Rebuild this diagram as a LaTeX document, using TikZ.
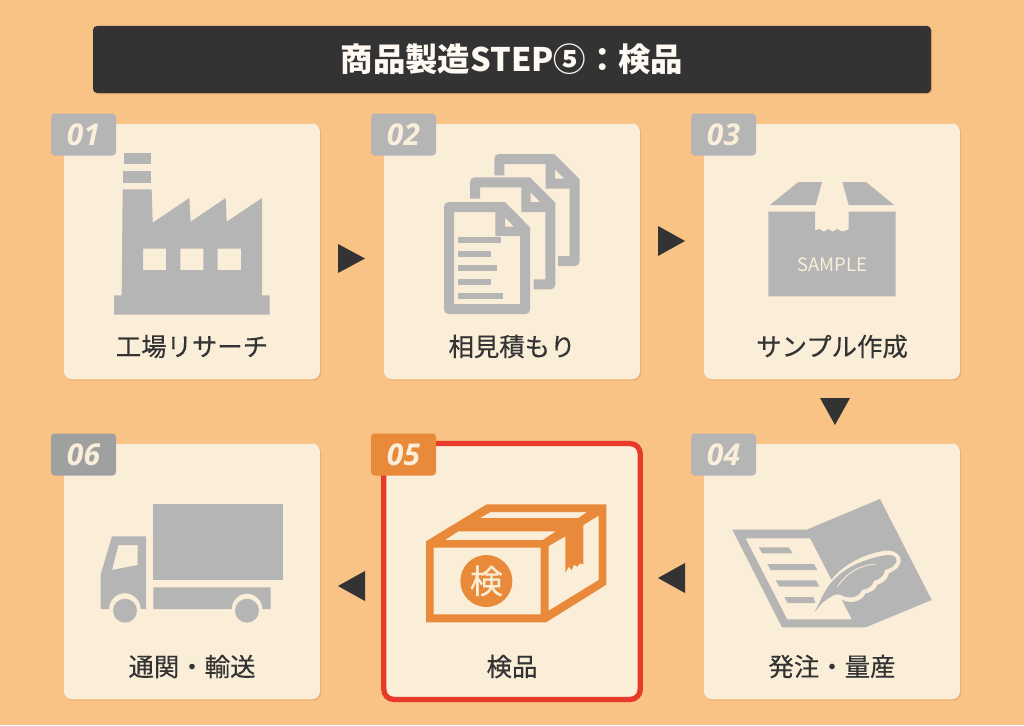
\documentclass[tikz,border=0pt]{standalone}
\usepackage{fontspec}
\setmainfont{Noto Sans CJK JP}
\newfontfamily\labelfont[FakeBold=0.35]{Noto Sans CJK JP}
\newfontfamily\badgefont{Open Sans}
\usetikzlibrary{shadows}
\definecolor{bgorange}{HTML}{F8C384}
\definecolor{cardcream}{HTML}{FBEED8}
\definecolor{cardshadow}{HTML}{EBA765}
\definecolor{icongray}{HTML}{B5B5B5}
\definecolor{badgedark}{HTML}{9FA0A0}
\definecolor{darkgray}{HTML}{333333}
\definecolor{boxorange}{HTML}{E98A3A}
\definecolor{framered}{HTML}{E8392A}
\tikzset{
    card/.style={fill=cardcream, rounded corners=8pt, minimum width=256pt, minimum height=255.5pt, inner sep=0pt,
        drop shadow={shadow xshift=1pt, shadow yshift=-1pt, fill=cardshadow, opacity=1}},
    badge/.style={fill=icongray, rounded corners=3.5pt, minimum width=65pt, minimum height=42pt, inner sep=0pt,
        text=cardcream, font=\badgefont\bfseries\itshape\fontsize{30}{30}\selectfont},
    cardlabel/.style={text=darkgray, font=\labelfont\fontsize{25.4}{25.4}\selectfont, inner sep=0pt},
    flowarrow/.style={fill=darkgray},
    icon/.style={fill=icongray},
    boxicon/.style={fill=boxorange, even odd rule}
}
\begin{document}
\begin{tikzpicture}[x=1pt, y=-1pt]
    \useasboundingbox (0, 0) rectangle (1024, 725);
    \fill[bgorange] (0, 0) rectangle (1024, 725);
    \node[fill=darkgray, rounded corners=4pt, minimum width=838pt, minimum height=67pt, inner sep=0pt,
        text=white!70!cardcream, font=\bfseries\fontsize{32.4}{32.4}\selectfont,
        drop shadow={shadow xshift=1pt, shadow yshift=-1pt, fill=cardshadow, opacity=1}] (title) at (512, 59.5) {商品製造STEP⑤：検品};
    % cards
    \foreach \n/\x/\y/\txt in {1/192/251.5/工場リサーチ, 2/512/251.5/相見積もり, 3/832/251.5/サンプル作成,
        4/832/571.5/発注・量産, 5/512/571.5/検品, 6/192/571.5/通関・輸送} {
        \node[card] (card\n) at (\x, \y) {};
        \node[cardlabel] (label\n) at (\x, \y + 95) {\txt};
    }
    \draw[framered, line width=5.3pt, rounded corners=10pt] (card5.north west) rectangle (card5.south east);
    % badges
    \foreach \n/\x/\y/\col in {1/83.5/134.5/icongray, 2/403.5/134.5/icongray, 3/723.5/134.5/icongray,
        4/723.5/454.5/icongray, 5/403.5/454.5/boxorange, 6/83.5/454.5/badgedark} {
        \node[badge, fill=\col] (badge\n) at (\x, \y) {0\n};
    }
    % arrows
    \fill[flowarrow] (338, 244) -- (365, 258.5) -- (338, 273) -- cycle;
    \fill[flowarrow] (658, 226) -- (685, 241) -- (658, 256) -- cycle;
    \fill[flowarrow] (820, 398) -- (850, 398) -- (835, 425) -- cycle;
    \fill[flowarrow] (685, 563) -- (658, 578) -- (685, 593) -- cycle;
    \fill[flowarrow] (365, 571) -- (338, 586) -- (365, 601) -- cycle;
    % factory
    \begin{scope}[shift={(50, 110)}, scale=1/3]
        \fill[icon] (222, 130) rectangle (302, 161);
        \fill[icon] (219, 182) rectangle (304, 218);
        \fill[icon, even odd rule] (218, 238) -- (305, 238) -- (308, 338) -- (418, 264) -- (422, 335) -- (527, 264) -- (530, 335) -- (636, 264)
            -- (636, 556) -- (659, 556) -- (659, 614) -- (192, 614) -- (192, 556) -- (215, 556) -- cycle
            (279, 416) rectangle (348, 480) (391, 416) rectangle (460, 480) (503, 416) rectangle (573, 480);
    \end{scope}
    % documents
    \begin{scope}[shift={(370, 110)}, scale=1/3]
        \foreach \dx/\dy in {0/0, 73/-70} {
            \begin{scope}[shift={(\dx, \dy)}]
                \fill[icon, even odd rule] (300, 266) -- (300, 216) .. controls (300, 208) and (306, 202) .. (314, 202) -- (480, 202) -- (556, 278) -- (556, 524)
                    .. controls (556, 532) and (550, 538) .. (542, 538) -- (491, 538) -- (491, 508) -- (526, 508) -- (526, 306) -- (454, 306) -- (454, 232) -- (330, 232) -- (330, 266) -- cycle
                    (482, 248) -- (482, 276) -- (510, 276) -- cycle;
            \end{scope}
        }
        \fill[icon, even odd rule] (222, 290) .. controls (222, 282) and (228, 276) .. (236, 276) -- (405, 276) -- (480, 352) -- (480, 598)
            .. controls (480, 606) and (474, 612) .. (466, 612) -- (236, 612) .. controls (228, 612) and (222, 606) .. (222, 598) -- cycle
            (252, 306) -- (376, 306) -- (376, 378) -- (450, 378) -- (450, 582) -- (252, 582) -- cycle
            (405, 322) -- (405, 350) -- (432, 350) -- cycle;
        \fill[icon] (263, 382) rectangle (392, 399);
        \fill[icon] (263, 424) rectangle (363, 441);
        \fill[icon] (263, 466) rectangle (380, 483);
        \fill[icon] (263, 508) rectangle (363, 525);
        \fill[icon] (263, 550) rectangle (398, 567);
    \end{scope}
    % sample box
    \begin{scope}[shift={(690, 110)}, scale=1/3]
        \fill[icon] (240, 285) -- (325, 216) -- (396, 216) -- (377, 285) -- cycle;
        \fill[icon] (476, 285) -- (457, 216) -- (528, 216) -- (612, 285) -- cycle;
        \fill[icon] (235, 305) -- (375, 305) -- (375, 362) -- (388, 357) -- (402, 365) -- (415, 357) -- (428, 365) -- (442, 357) -- (457, 365) -- (476, 358)
            -- (476, 305) -- (617, 305) -- (617, 559) -- (235, 559) -- cycle;
        \node[text=cardcream, font=\fontsize{18.5}{18.5}\selectfont, inner sep=0pt] (sample) at (426, 465) {SAMPLE};
    \end{scope}
    % order book
    \begin{scope}[shift={(690, 430)}, scale=1/3]
        \fill[icon] (127, 299) -- (350, 299) -- (570, 207) -- (725, 510) -- (527, 592) -- (276, 592) -- cycle;
        \fill[cardcream] (167, 325) -- (360, 325) -- (485, 568) -- (292, 568) -- cycle;
        \fill[icon] (206, 352) -- (296, 352) -- (308, 370) -- (217, 370) -- cycle;
        \fill[icon] (232, 402) -- (372, 402) -- (382, 420) -- (242, 420) -- cycle;
        \fill[icon] (257, 451) -- (378, 451) -- (388, 470) -- (268, 470) -- cycle;
        \fill[icon] (283, 501) -- (370, 501) -- (376, 519) -- (293, 519) -- cycle;
        % quill
        \fill[cardcream] (370, 548) -- (388, 512) .. controls (415, 440) and (480, 380) .. (585, 362) .. controls (620, 358) and (645, 385) .. (625, 410)
            .. controls (615, 422) and (605, 425) .. (596, 430) .. controls (592, 452) and (575, 460) .. (562, 464)
            .. controls (558, 480) and (540, 488) .. (526, 490) .. controls (515, 515) and (480, 525) .. (450, 506)
            .. controls (435, 500) and (420, 505) .. (400, 522) -- cycle;
        \fill[icon] (373, 547) -- (392, 510) .. controls (420, 445) and (475, 395) .. (590, 375) .. controls (620, 372) and (628, 395) .. (612, 405)
            .. controls (605, 415) and (595, 415) .. (585, 420) .. controls (582, 440) and (565, 450) .. (552, 452)
            .. controls (548, 470) and (530, 478) .. (516, 480) .. controls (505, 505) and (475, 508) .. (450, 494)
            .. controls (435, 488) and (415, 505) .. (395, 520) -- cycle;
        \draw[cardcream, line width=0.8pt] (442, 470) .. controls (470, 430) and (505, 406) .. (558, 402);
    \end{scope}
    % inspection box
    \begin{scope}[shift={(370, 430)}, scale=1/3]
        \fill[boxicon] (168, 334) -- (350, 223) -- (709, 223) -- (709, 464) -- (528, 577) -- (168, 577) -- cycle
            (225, 330) -- (265, 304) -- (558, 304) -- (518, 330) -- cycle
            (330, 264) -- (362, 246) -- (652, 246) -- (625, 264) -- cycle
            (191, 353) rectangle (512, 553)
            (536, 348) -- (586, 319) -- (586, 428) -- (596, 410) -- (605, 420) -- (612, 404) -- (622, 410) -- (630, 400) -- (640, 403) -- (640, 285) -- (686, 257) -- (686, 450) -- (536, 542) -- cycle;
        \node[circle, fill=boxorange, minimum size=52pt, inner sep=0pt, text=cardcream, font=\labelfont\fontsize{33}{33}\selectfont] (stamp) at (349, 453) {検};
    \end{scope}
    % truck
    \begin{scope}[shift={(50, 430)}, scale=1/3]
        \fill[icon] (310, 221) rectangle (700, 449);
        \fill[icon] (310, 472) -- (662, 472) -- (662, 537) -- (637, 537) arc[start angle=0, end angle=-180, radius=46] -- (310, 537) -- cycle;
        \fill[icon, even odd rule] (152, 537) -- (152, 434) -- (186, 319) -- (288, 319) -- (288, 537) -- (272, 537) arc[start angle=0, end angle=-180, radius=47.5] -- cycle
            (205, 345) -- (263, 345) -- (263, 405) -- (186, 420) -- cycle;
        \fill[icon] (225, 542) circle[radius=36];
        \fill[icon] (591, 542) circle[radius=36];
    \end{scope}
\end{tikzpicture}
\end{document}
